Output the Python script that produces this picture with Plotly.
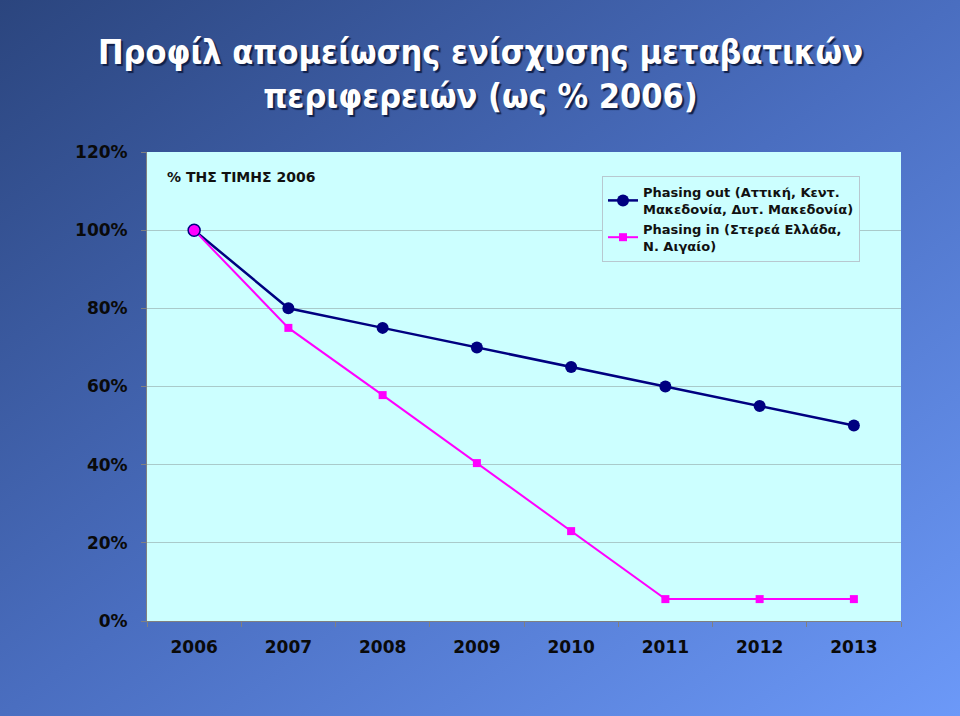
import base64
import plotly.graph_objects as go

years = ["2006", "2007", "2008", "2009", "2010", "2011", "2012", "2013"]
phasing_out = [100, 80, 75, 70, 65, 60, 55, 50]
phasing_in = [100, 75, 57.8, 40.4, 23, 5.6, 5.6, 5.6]
y_ticks = [0, 20, 40, 60, 80, 100, 120]
y_tick_labels = [f"{v}%" for v in y_ticks]

name_out = "Phasing out (Αττική, Κεντ.<br>Μακεδονία, Δυτ. Μακεδονία)"
name_in = "Phasing in (Στερεά Ελλάδα,<br>Ν. Αιγαίο)"
title_text = "Προφίλ απομείωσης ενίσχυσης μεταβατικών<br>περιφερειών (ως % 2006)"
note_text = "% ΤΗΣ ΤΙΜΗΣ 2006"

W, H = 960, 716
ML, MR, MT, MB = 147, 59, 152, 95
PW, PH = W - ML - MR, H - MT - MB

svg = f'''<svg xmlns="http://www.w3.org/2000/svg" width="{W}" height="{H}" viewBox="0 0 {W} {H}" preserveAspectRatio="none">
<defs><linearGradient id="g" x1="0" y1="0" x2="1" y2="1">
<stop offset="0" stop-color="#2B457E"/><stop offset="0.5" stop-color="#4A6EC0"/><stop offset="1" stop-color="#6C99F8"/>
</linearGradient></defs><rect width="{W}" height="{H}" fill="url(#g)"/></svg>'''
bg_uri = "data:image/svg+xml;base64," + base64.b64encode(svg.encode()).decode()

tick_font = dict(family="DejaVu Sans", size=17, color="#0a0a0a", weight="bold")

fig = go.Figure()
fig.add_trace(go.Scatter(
    x=years, y=phasing_out, name=name_out, mode="lines+markers",
    line=dict(color="#000080", width=2.5),
    marker=dict(symbol="circle", size=12, color="#000080"),
))
fig.add_trace(go.Scatter(
    x=years, y=phasing_in, name=name_in, mode="lines+markers",
    line=dict(color="#FF00FF", width=2),
    marker=dict(symbol="square", size=8, color="#FF00FF"),
))
fig.add_trace(go.Scatter(
    x=years[:1], y=phasing_in[:1], mode="markers", showlegend=False,
    marker=dict(symbol="circle", size=12, color="#FF00FF",
                line=dict(color="#000080", width=1.5)),
))

fig.update_layout(
    width=W, height=H,
    margin=dict(l=ML, r=MR, t=MT, b=MB),
    paper_bgcolor="#4A6EC0",
    plot_bgcolor="rgba(0,0,0,0)",
    images=[dict(source=bg_uri, xref="paper", yref="paper",
                 x=-ML / PW, y=1 + MT / PH, sizex=W / PW, sizey=H / PH,
                 xanchor="left", yanchor="top", sizing="stretch", layer="below")],
    shapes=[dict(type="rect", xref="paper", yref="paper", x0=0, x1=1, y0=0, y1=1,
                 fillcolor="#CCFFFF", line=dict(width=0), layer="below")],
    xaxis=dict(
        type="category", range=[-0.5, 7.5], tickson="boundaries",
        ticks="outside", ticklen=5, tickcolor="#808080",
        showline=True, linecolor="#808080", linewidth=1,
        showgrid=False, tickfont=tick_font, ticklabelstandoff=11,
    ),
    yaxis=dict(
        range=[0, 120], tickvals=y_ticks, ticktext=y_tick_labels,
        ticks="outside", ticklen=5, tickcolor="#808080",
        showline=True, linecolor="#808080", linewidth=1,
        showgrid=True, gridcolor="#A9CACA", gridwidth=1,
        zeroline=False, tickfont=tick_font, ticklabelstandoff=10,
    ),
    legend=dict(
        x=(602 - ML) / PW, y=(621 - 176) / PH, xanchor="left", yanchor="top",
        bgcolor="#CCFFFF", bordercolor="#B8C8D0", borderwidth=1,
        font=dict(family="DejaVu Sans", size=13, color="#111111", weight="bold"),
        itemwidth=30, tracegroupgap=0,
    ),
    annotations=[
        dict(text=title_text, xref="paper", yref="paper",
             x=(480 - ML) / PW, y=(621 - 74) / PH, xanchor="center", yanchor="middle",
             showarrow=False,
             font=dict(family="Liberation Sans Narrow, DejaVu Sans Condensed, Arial",
                       size=34, color="white", weight="bold",
                       shadow="2px 2px 1px #10204a")),
        dict(text=note_text, xref="paper", yref="paper",
             x=(165 - ML) / PW, y=(621 - 177) / PH, xanchor="left", yanchor="middle",
             showarrow=False,
             font=dict(family="DejaVu Sans", size=14, color="#111111", weight="bold")),
    ],
)

fig.write_html("out.html")
